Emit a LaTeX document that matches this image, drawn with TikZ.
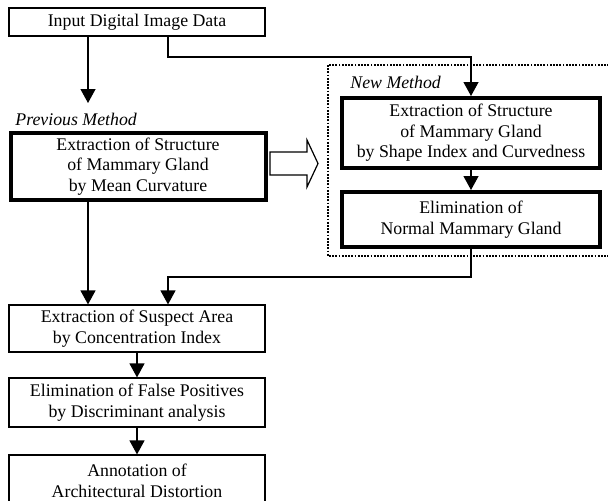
\documentclass[tikz,border=0pt]{standalone}
\usepackage{fontspec}
\setmainfont{Liberation Serif}
\usetikzlibrary{arrows.meta}
\tikzset{
  box/.style={draw, line width=0.6pt, align=center, inner sep=0pt,
    minimum width=128pt, font=\fontsize{8.9}{10.25}\selectfont},
  thickbox/.style={box, line width=2pt},
  tag/.style={font=\fontsize{8.9}{10.25}\selectfont\itshape, inner sep=0pt,
    anchor=base west},
  arr/.style={-{Triangle[width=7.5pt,length=7pt]}, line width=0.6pt}
}
\begin{document}
\begin{tikzpicture}[x=0.5pt,y=-0.5pt]
  \useasboundingbox (0,0) rectangle (608,500);
  \clip (0,0) rectangle (608,500);
  \node[box, minimum height=14pt] (input) at (137,22) {Input Digital Image Data};
  \node[tag] (prevtag) at (15,125) {Previous Method};
  \node[thickbox, minimum width=127.5pt, minimum height=33.5pt] (prev) at (138,166.5)
    {Extraction of Structure\\of Mammary Gland\\by Mean Curvature};
  \node[tag] (newtag) at (350,88) {New Method};
  \node[thickbox, minimum width=129pt, minimum height=35pt] (shape) at (471,133)
    {Extraction of Structure\\of Mammary Gland\\by Shape Index and Curvedness};
  \node[thickbox, minimum width=129pt, minimum height=27.5pt] (normal) at (471,219.5)
    {Elimination of\\Normal Mammary Gland};
  \node[box, minimum height=23.5pt] (suspect) at (137,328.5)
    {Extraction of Suspect Area\\by Concentration Index};
  \node[box, minimum height=24.5pt] (false) at (137,402.5)
    {Elimination of False Positives\\by Discriminant analysis};
  \node[box, minimum height=26pt] (annot) at (137,481)
    {Annotation of\\Architectural Distortion};
  % frame of the new method
  \draw[line width=1.1pt, dash pattern=on 0.9pt off 0.7pt] (328,65) rectangle (620,256);
  % hollow arrow
  \draw[line width=0.6pt] (270,152) -- (307,152) -- (307,140) -- (318,163.5)
    -- (307,187) -- (307,175) -- (270,175) -- cycle;
  \coordinate (fork) at (88,103);
  \coordinate (tap) at (168,57);
  \coordinate (join) at (168,277);
  \begin{scope}[arr]
    \draw (input.south -| fork) -- (fork);
    \draw (input.south -| tap) -- (tap) -| (shape.north);
    \draw (shape.south) -- (normal.north);
    \draw (normal.south) |- (join) -- (suspect.north -| join);
    \draw (prev.south -| fork) -- (suspect.north -| fork);
    \draw (suspect.south) -- (false.north);
    \draw (false.south) -- (annot.north);
  \end{scope}
\end{tikzpicture}
\end{document}
